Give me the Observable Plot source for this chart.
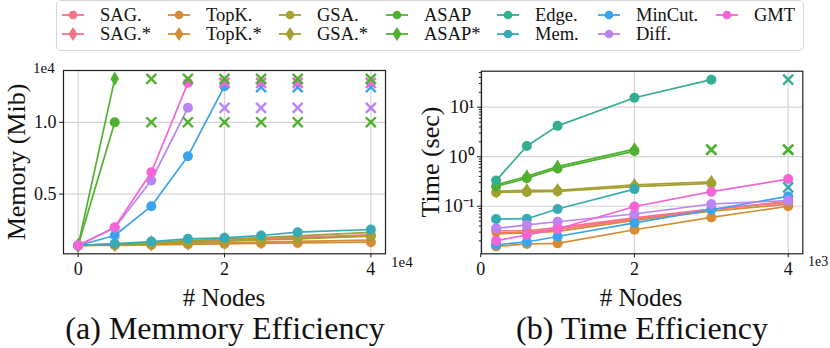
<!DOCTYPE html>
<html>
<head>
<meta charset="utf-8">
<script src="https://cdn.jsdelivr.net/npm/d3@7"></script>
<script src="https://cdn.jsdelivr.net/npm/@observablehq/plot@0.6"></script>
<style>
  body { margin:0; background:#fff; }
  #root { position:relative; width:830px; height:348px; font-family:"Liberation Serif","Times New Roman",Times,serif; color:#111; overflow:hidden; }
  .lab { position:absolute; white-space:nowrap; line-height:1; }
  .c { transform:translate(-50%,-50%); }
  .rot { transform:translate(-50%,-50%) rotate(-90deg); }
  #legend { position:absolute; left:56px; top:0px; width:748px; height:51px; border:1.5px solid #d6d6d6; border-radius:5px; box-sizing:border-box; }
  .plot { position:absolute; top:60px; }
</style>
</head>
<body>
<div id="root">
  <div id="legend"></div>
  <div id="left" class="plot" style="left:0px"></div>
  <div id="right" class="plot" style="left:415px"></div>
  <div class="lab" style="left:33px;top:61px;font-size:15px">1e4</div>
  <div class="lab" style="left:391px;top:255px;font-size:15px">1e4</div>
  <div class="lab" style="left:808px;top:255px;font-size:14px">1e3</div>
  <div class="lab rot" style="left:17px;top:162px;font-size:26px">Memory (Mib)</div>
  <div class="lab rot" style="left:431px;top:162px;font-size:26px">Time (sec)</div>
  <div class="lab c" style="left:224px;top:297px;font-size:25px"># Nodes</div>
  <div class="lab c" style="left:641px;top:297px;font-size:25px"># Nodes</div>
  <div class="lab c" style="left:225px;top:328px;font-size:32px">(a) Memmory Efficiency</div>
  <div class="lab c" style="left:642px;top:328px;font-size:32px">(b) Time Efficiency</div>
</div>
<script>
// ---------- categories & styles ----------
const methods = ["SAG.","SAG.*","TopK.","TopK.*","GSA.","GSA.*","ASAP","ASAP*","Edge.","Mem.","MinCut.","Diff.","GMT"];
const colors  = ["#f77189","#f77189","#d58c32","#d58c32","#a4a031","#a4a031","#50b131","#50b131","#34ae91","#37abb5","#3ba3ec","#bb83f4","#f564d4"];
const markers = ["circle","diamond","circle","diamond","circle","diamond","circle","diamond","circle","circle","circle","circle","circle"];

// ---------- (a) memory (Mib) ----------
const memNodes   = [0, 5000, 10000, 15000, 20000, 25000, 30000, 40000];
const memSAG     = [1420, 1500, 1590, 1690, 1780, 1880, 1980, 2160];
const memSAGs    = [1420, 1480, 1560, 1650, 1740, 1830, 1930, 2110];
const memTopK    = [1420, 1430, 1460, 1500, 1530, 1570, 1600, 1650];
const memTopKs   = [1420, 1450, 1500, 1550, 1600, 1650, 1700, 1790];
const memGSA     = [1420, 1470, 1550, 1640, 1720, 1800, 1880, 2060];
const memGSAs    = [1420, 1530, 1640, 1760, 1860, 1970, 2090, 2330];
const memASAP    = [1420, 10010];
const memASAPs   = [1420, 13036];
const memEdge    = [];
const memMem     = [1420, 1534, 1695, 1883, 1953, 2113, 2346, 2531];
const memMinCut  = [1420, 2113, 4156, 7642, 12522];
const memDiff    = [1420, 2650, 5948, 11016];
const memGMT     = [1420, 2692, 6527, 12759];
// out-of-memory crosses: [method, nodes, value]
const memOOM = [
  ["ASAP",   [10000, 15000, 20000, 25000, 30000, 40000], 10010],
  ["Diff.",  [20000, 25000, 30000, 40000], 11016],
  ["MinCut.",[25000, 30000, 40000], 12450],
  ["GMT",    [20000, 25000, 30000, 40000], 12759],
  ["ASAP*",  [10000, 15000, 20000, 25000, 30000, 40000], 13036]
];
const memTicksX = [0, 20000, 40000];
const memTicksY = [5000, 10000];

// ---------- (b) time (sec) ----------
const timeNodes  = [200, 600, 1000, 2000, 3000, 4000];
const timeSAG    = [0.032, 0.032, 0.037, 0.058, 0.088, 0.12];
const timeSAGs   = [0.029, 0.030, 0.034, 0.055, 0.085, 0.125];
const timeTopK   = [0.0155, 0.0173, 0.0178, 0.0335, 0.0595, 0.10];
const timeTopKs  = [0.0276, 0.029, 0.031, 0.052, 0.080, 0.11];
const timeGSA    = [0.19, 0.195, 0.20, 0.25, 0.29];
const timeGSAs   = [0.20, 0.21, 0.21, 0.27, 0.31];
const timeASAP   = [0.25, 0.37, 0.58, 1.30];
const timeASAPs  = [0.27, 0.40, 0.63, 1.42];
const timeEdge   = [0.33, 1.65, 4.2, 15.5, 36];
const timeMem    = [0.055, 0.056, 0.088, 0.222];
const timeMinCut = [0.0167, 0.019, 0.0245, 0.046, 0.085, 0.158];
const timeDiff   = [0.0357, 0.042, 0.0487, 0.0697, 0.111, 0.13];
const timeGMT    = [0.0202, 0.0263, 0.0347, 0.099, 0.197, 0.354];
const timeOOT = [
  ["Mem.",  [4000], 0.24],
  ["ASAP",  [3000, 4000], 1.37],
  ["ASAP*", [3000, 4000], 1.40],
  ["Edge.", [4000], 36]
];
const timeTicksX = [0, 2000, 4000];
const timeTicksY = [0.1, 1, 10];
const timeTickLabels = ["10\u207B\u00B9", "10\u2070", "10\u00B9"];
const timeMinorY = [0.02,0.03,0.04,0.05,0.06,0.07,0.08,0.09,0.2,0.3,0.4,0.5,0.6,0.7,0.8,0.9,2,3,4,5,6,7,8,9,20,30,40,50];

// ---------- helpers ----------
const thinDiamond = {
  draw(ctx, size) {
    const r = Math.sqrt(size / Math.PI);
    ctx.moveTo(0, -r * 1.45);
    ctx.lineTo(r * 0.85, 0);
    ctx.lineTo(0, r * 1.45);
    ctx.lineTo(-r * 0.85, 0);
    ctx.closePath();
  }
};
const colorScale = {domain: methods, range: colors};
const gridColor = "#d4d4d4";
const frameColor = "#1e1e1e";

function seriesMarks(nodes, valueLists) {
  const marks = [];
  methods.forEach((m, i) => {
    const vals = valueLists[i];
    const rows = vals.map((v, j) => ({m, x: nodes[j], y: v}));
    if (!rows.length) return;
    marks.push(Plot.line(rows, {x: "x", y: "y", stroke: "m", strokeWidth: 1.7}));
    marks.push(Plot.dot(rows, {x: "x", y: "y", fill: "m", r: 5,
      symbol: markers[i] === "diamond" ? thinDiamond : "circle"}));
  });
  return marks;
}
function crossMarks(list) {
  const rows = [];
  list.forEach(([m, xs, v]) => xs.forEach(x => rows.push({m, x, y: v})));
  return Plot.dot(rows, {x: "x", y: "y", stroke: "m", symbol: "times", r: 4.6, strokeWidth: 2.4});
}
const baseStyle = {fontFamily: "'Liberation Serif','Times New Roman',Times,serif", fontSize: "18px", color: "#111", background: "transparent", overflow: "visible"};

// ---------- (a) ----------
const left = Plot.plot({
  width: 415, height: 230,
  marginLeft: 63, marginRight: 30, marginTop: 10, marginBottom: 36.7,
  style: baseStyle,
  x: {domain: [-2000, 42000]},
  y: {domain: [838, 13617]},
  color: colorScale,
  marks: [
    Plot.gridX(memTicksX, {stroke: gridColor, strokeOpacity: 1, strokeWidth: 1.2}),
    Plot.gridY(memTicksY, {stroke: gridColor, strokeOpacity: 1, strokeWidth: 1.2}),
    ...seriesMarks(memNodes, [memSAG, memSAGs, memTopK, memTopKs, memGSA, memGSAs, memASAP, memASAPs, memEdge, memMem, memMinCut, memDiff, memGMT]),
    crossMarks(memOOM),
    Plot.frame({stroke: frameColor, strokeWidth: 1.2}),
    Plot.axisX({ticks: memTicksX, tickFormat: d => String(d / 1e4), tickSize: 4, tickPadding: 4, label: null, stroke: frameColor}),
    Plot.axisY({ticks: memTicksY, tickFormat: d => (d / 1e4).toFixed(1), tickSize: 4, tickPadding: 3, label: null, stroke: frameColor})
  ]
});
document.getElementById("left").appendChild(left);

// ---------- (b) ----------
const right = Plot.plot({
  width: 415, height: 230,
  marginLeft: 66, marginRight: 27.7, marginTop: 10.7, marginBottom: 36.7,
  style: baseStyle,
  x: {domain: [10, 4190]},
  y: {type: "log", domain: [0.01096, 53.3]},
  color: colorScale,
  marks: [
    Plot.gridX(timeTicksX, {stroke: gridColor, strokeOpacity: 1, strokeWidth: 1.2}),
    Plot.gridY(timeTicksY, {stroke: gridColor, strokeOpacity: 1, strokeWidth: 1.2}),
    ...seriesMarks(timeNodes, [timeSAG, timeSAGs, timeTopK, timeTopKs, timeGSA, timeGSAs, timeASAP, timeASAPs, timeEdge, timeMem, timeMinCut, timeDiff, timeGMT]),
    crossMarks(timeOOT),
    Plot.frame({stroke: frameColor, strokeWidth: 1.2}),
    Plot.axisX({ticks: timeTicksX, tickFormat: d => String(d / 1e3), tickSize: 4, tickPadding: 4, label: null, stroke: frameColor}),
    Plot.axisY({ticks: timeMinorY, tickFormat: () => "", tickSize: 2.2, label: null, stroke: frameColor}),
    Plot.axisY({ticks: timeTicksY, tickFormat: (d) => timeTickLabels[timeTicksY.indexOf(d)], tickSize: 4, tickPadding: 3, label: null, stroke: frameColor, fontSize: 19})
  ]
});
document.getElementById("right").appendChild(right);

// ---------- legend ----------
const legendCols = [62, 168, 279, 386, 497, 598, 716];
const legendRows = [15, 34];
const legendOrder = [["SAG.","SAG.*"],["TopK.","TopK.*"],["GSA.","GSA.*"],["ASAP","ASAP*"],["Edge.","Mem."],["MinCut.","Diff."],["GMT"]];
const root = document.getElementById("root");
legendOrder.forEach((col, ci) => {
  col.forEach((name, ri) => {
    const i = methods.indexOf(name);
    const cx = legendCols[ci], cy = legendRows[ri];
    const sym = markers[i] === "diamond"
      ? `<path d="M11,1 L15.5,8 L11,15 L6.5,8 Z" fill="${colors[i]}"/>`
      : `<circle cx="11" cy="8" r="4.3" fill="${colors[i]}"/>`;
    const svg = `<svg width="22" height="16" style="position:absolute;left:${cx}px;top:${cy - 8}px;overflow:visible"><line x1="0" y1="8" x2="22" y2="8" stroke="${colors[i]}" stroke-width="1.8"/>${sym}</svg>`;
    root.insertAdjacentHTML("beforeend", svg);
    root.insertAdjacentHTML("beforeend", `<div class="lab" style="left:${cx + 38}px;top:${cy}px;font-size:18.5px;transform:translateY(-50%)">${name}</div>`);
  });
});
</script>
</body>
</html>
